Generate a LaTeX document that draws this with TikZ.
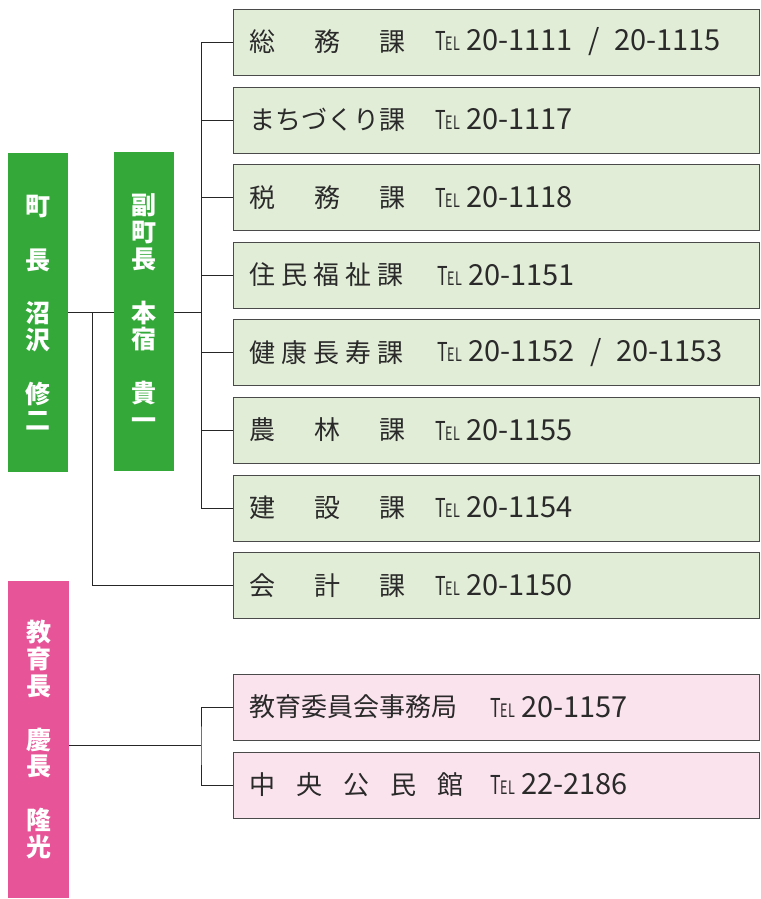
\documentclass[tikz,border=0pt]{standalone}
\usepackage{fontspec}
\setmainfont{Noto Sans CJK JP}
\definecolor{hgreen}{HTML}{34A93A}
\definecolor{lgreen}{HTML}{E2EDD8}
\definecolor{hpink}{HTML}{E75498}
\definecolor{lpink}{HTML}{FBE3EE}
\definecolor{boxedge}{HTML}{4A4A4A}
\definecolor{txt}{HTML}{2A2A2A}
\newcommand{\telmark}{\scalebox{0.68}[1]{\fontsize{26}{26}\selectfont T\fontsize{18.5}{18.5}\selectfont EL}}
\tikzset{
  head/.style={fill=#1, draw=none, minimum width=60pt, minimum height=319pt, inner sep=0pt,
    text=white, font=\fontsize{25}{26.8}\selectfont\bfseries, align=center, anchor=north west},
  dept/.style={draw=boxedge, line width=1pt, fill=#1, minimum width=526pt, minimum height=66pt,
    anchor=north west, inner sep=0pt},
  lab/.style={anchor=west, font=\fontsize{26}{26}\selectfont, inner sep=0pt, text=txt},
  tel/.style={anchor=west, font=\fontsize{29}{29}\selectfont, inner sep=0pt, text=txt},
  conn/.style={draw=black!85, line width=1pt}
}
\begin{document}
\begin{tikzpicture}[x=1pt,y=-1pt]
\useasboundingbox (0,0) rectangle (760,899);
% heads
\node[head=hgreen] (mayor) at (8,153) {町\\~\\長\\~\\沼\\沢\\~\\修\\二};
\node[head=hgreen] (deputy) at (114,152) {副\\町\\長\\~\\本\\宿\\~\\貴\\一};
\node[head=hpink, minimum height=317pt, minimum width=61pt] (edu) at (8,581) {教\\育\\長\\~\\慶\\長\\~\\隆\\光};
% green departments
\node[dept=lgreen] (d1) at (233,9) {};
\node[dept=lgreen] (d2) at (233,86.6) {};
\node[dept=lgreen] (d3) at (233,164.2) {};
\node[dept=lgreen] (d4) at (233,241.8) {};
\node[dept=lgreen] (d5) at (233,319.4) {};
\node[dept=lgreen] (d6) at (233,397) {};
\node[dept=lgreen] (d7) at (233,474.6) {};
\node[dept=lgreen] (d8) at (233,552.2) {};
% pink departments
\node[dept=lpink] (p1) at (233,674) {};
\node[dept=lpink] (p2) at (233,751.6) {};
% labels
\node[lab] (l1) at (249,42) {総\hspace{39pt}務\hspace{39pt}課};
\node[tel] (t1) at (435,42) {\telmark\hspace{6pt}20-1111\hspace{16pt}/\hspace{14pt}20-1115};
\node[lab] (l2) at (249,119.6) {まちづくり課};
\node[tel] (t2) at (435,119.6) {\telmark\hspace{6pt}20-1117};
\node[lab] (l3) at (249,197.2) {税\hspace{39pt}務\hspace{39pt}課};
\node[tel] (t3) at (435,197.2) {\telmark\hspace{6pt}20-1118};
\node[lab] (l4) at (249,274.8) {住\hspace{6pt}民\hspace{6pt}福\hspace{6pt}祉\hspace{6pt}課};
\node[tel] (t4) at (437,274.8) {\telmark\hspace{6pt}20-1151};
\node[lab] (l5) at (249,352.4) {健\hspace{6pt}康\hspace{6pt}長\hspace{6pt}寿\hspace{6pt}課};
\node[tel] (t5) at (437,352.4) {\telmark\hspace{6pt}20-1152\hspace{16pt}/\hspace{14pt}20-1153};
\node[lab] (l6) at (249,430) {農\hspace{39pt}林\hspace{39pt}課};
\node[tel] (t6) at (435,430) {\telmark\hspace{6pt}20-1155};
\node[lab] (l7) at (249,507.6) {建\hspace{39pt}設\hspace{39pt}課};
\node[tel] (t7) at (435,507.6) {\telmark\hspace{6pt}20-1154};
\node[lab] (l8) at (249,585.2) {会\hspace{39pt}計\hspace{39pt}課};
\node[tel] (t8) at (435,585.2) {\telmark\hspace{6pt}20-1150};
\node[lab] (l9) at (249,707) {教育委員会事務局};
\node[tel] (t9) at (490,707) {\telmark\hspace{6pt}20-1157};
\node[lab] (l10) at (249,784.6) {中\hspace{21pt}央\hspace{21pt}公\hspace{21pt}民\hspace{21pt}館};
\node[tel] (t10) at (490,784.6) {\telmark\hspace{6pt}22-2186};
% connector coordinates
\coordinate (j1) at (92.7,312);
\coordinate (bus) at (201,312);
\coordinate (ebus) at (201,745);
% connectors
\draw[conn] (mayor.east |- j1) -- (deputy.west |- j1);
\draw[conn] (j1) |- (d8.west);
\draw[conn] (deputy.east |- bus) -- (bus);
\draw[conn] (d1.west) -| (bus);
\draw[conn] (bus) |- (d7.west);
\foreach \d in {d2,d3,d4,d5,d6} \draw[conn] (bus |- \d.west) -- (\d.west);
\draw[conn] (edu.east |- ebus) -- (ebus);
\draw[conn] (p1.west) -| (ebus) |- (p2.west);
\end{tikzpicture}
\end{document}
